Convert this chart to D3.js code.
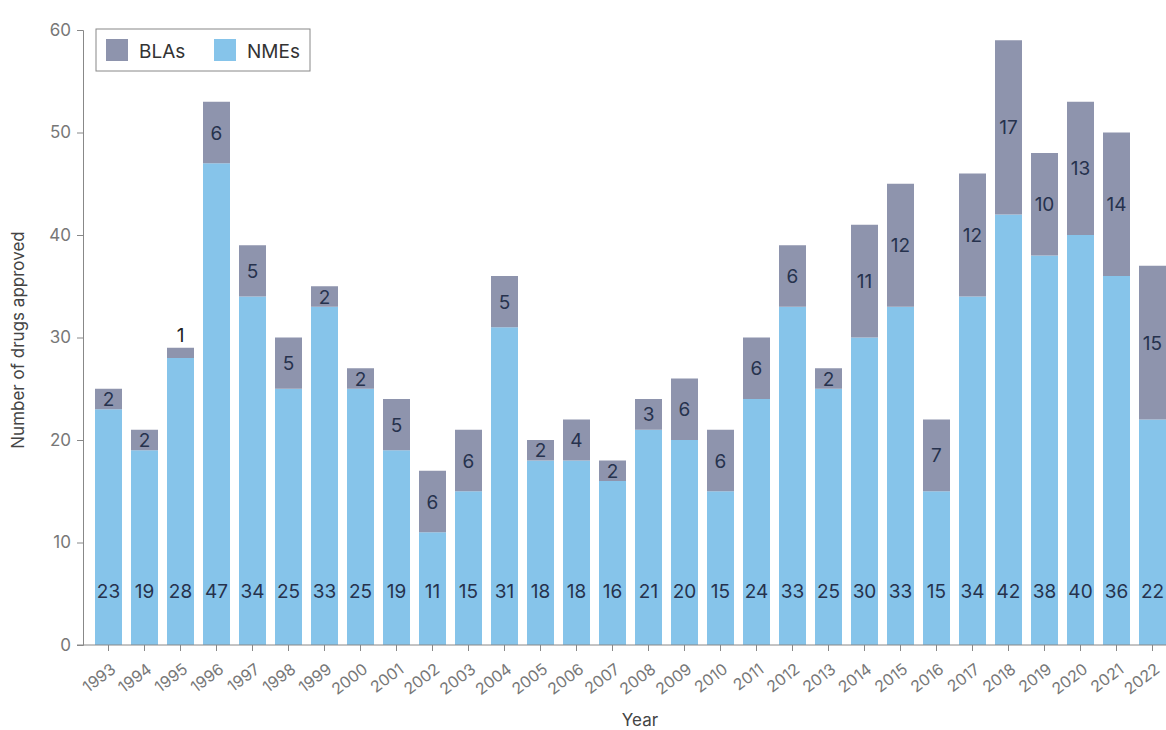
<!DOCTYPE html>
<meta charset="utf-8">
<head>
  <title>Drug approvals</title>
</head>
<style>
  html, body {
    margin: 0;
    background: #fff;
    overflow: hidden;
    font-family: Inter, "Noto Sans", sans-serif;
  }
  .tick text { fill: #777; }
</style>
<body>
<script src="https://d3js.org/d3.v7.min.js"></script>
<script>
var years = [1993,1994,1995,1996,1997,1998,1999,2000,2001,2002,2003,2004,2005,2006,2007,
  2008,2009,2010,2011,2012,2013,2014,2015,2016,2017,2018,2019,2020,2021,2022];
var nmes = [23,19,28,47,34,25,33,25,19,11,15,31,18,18,16,21,20,15,24,33,25,30,33,15,34,42,38,40,36,22];
var blas = [2,2,1,6,5,5,2,2,5,6,6,5,2,4,2,3,6,6,6,6,2,11,12,7,12,17,10,13,14,15];
var yTicks = [0,10,20,30,40,50,60];

var W = 1166, H = 730;
var colNME = '#86c4ea', colBLA = '#8e94ad', labCol = '#26324d';

var svg = d3.select('body').append('svg').attr('width', W).attr('height', H);

var x = d3.scaleBand().domain(years).range([86, 1175]).padding(0.25);
var y = d3.scaleLinear().domain([0, 60]).range([645, 30]);

var rows = years.map(function(yr, i) { return {year: yr, nme: nmes[i], bla: blas[i]}; });

// bars
var g = svg.append('g');
g.selectAll('rect.nme').data(rows).enter().append('rect')
  .attr('x', function(d) { return x(d.year); })
  .attr('width', x.bandwidth())
  .attr('y', function(d) { return y(d.nme); })
  .attr('height', function(d) { return y(0) - y(d.nme); })
  .attr('fill', colNME);
g.selectAll('rect.bla').data(rows).enter().append('rect')
  .attr('x', function(d) { return x(d.year); })
  .attr('width', x.bandwidth())
  .attr('y', function(d) { return y(d.nme + d.bla); })
  .attr('height', function(d) { return y(d.nme) - y(d.nme + d.bla); })
  .attr('fill', colBLA);

// value labels
g.selectAll('text.nme').data(rows).enter().append('text')
  .attr('x', function(d) { return x(d.year) + x.bandwidth() / 2; })
  .attr('y', 598)
  .attr('text-anchor', 'middle')
  .attr('font-size', 19)
  .attr('fill', labCol)
  .text(function(d) { return d.nme; });
g.selectAll('text.bla').data(rows).enter().append('text')
  .attr('x', function(d) { return x(d.year) + x.bandwidth() / 2; })
  .attr('y', function(d) {
    if (d.bla < 2) return y(d.nme + d.bla) - 6;
    return (y(d.nme) + y(d.nme + d.bla)) / 2 + 7;
  })
  .attr('text-anchor', 'middle')
  .attr('font-size', 19)
  .attr('fill', function(d) { return d.bla < 2 ? '#222' : labCol; })
  .text(function(d) { return d.bla; });

// y axis
var yAxis = svg.append('g').attr('transform', 'translate(83,0)')
  .call(d3.axisLeft(y).tickValues(yTicks).tickSize(6).tickPadding(6));
yAxis.select('.domain').attr('stroke', '#888');
yAxis.selectAll('.tick line').attr('stroke', '#888');
yAxis.selectAll('.tick text').attr('font-size', 17).attr('font-family', 'Inter, sans-serif');

// x axis
var xAxis = svg.append('g').attr('transform', 'translate(0,645)')
  .call(d3.axisBottom(x).tickSize(6));
xAxis.select('.domain').remove();
xAxis.append('line').attr('x1', 77).attr('x2', W).attr('stroke', '#888');
xAxis.selectAll('.tick line').attr('stroke', '#888');
xAxis.selectAll('.tick text')
  .attr('font-size', 16)
  .attr('font-family', 'Inter, sans-serif')
  .attr('text-anchor', 'end')
  .attr('x', 0).attr('y', 0).attr('dy', '0.35em')
  .attr('transform', 'translate(5,22) rotate(-37)');

svg.append('text').attr('x', 640).attr('y', 726).attr('text-anchor', 'middle')
  .attr('font-size', 17).attr('fill', '#444').text('Year');
svg.append('text').attr('transform', 'translate(24,340) rotate(-90)').attr('text-anchor', 'middle')
  .attr('font-size', 17).attr('fill', '#444').text('Number of drugs approved');

// legend
var lg = svg.append('g').attr('transform', 'translate(96,29)');
lg.append('rect').attr('width', 214).attr('height', 42).attr('fill', '#fff').attr('stroke', '#888');
var items = [{name: 'BLAs', c: colBLA, x: 10}, {name: 'NMEs', c: colNME, x: 118}];
lg.selectAll('rect.sw').data(items).enter().append('rect')
  .attr('x', function(d) { return d.x; }).attr('y', 10).attr('width', 22).attr('height', 22)
  .attr('fill', function(d) { return d.c; });
lg.selectAll('text').data(items).enter().append('text')
  .attr('x', function(d) { return d.x + 33; }).attr('y', 29)
  .attr('font-size', 19).attr('fill', '#333')
  .text(function(d) { return d.name; });
</script>
</body>
